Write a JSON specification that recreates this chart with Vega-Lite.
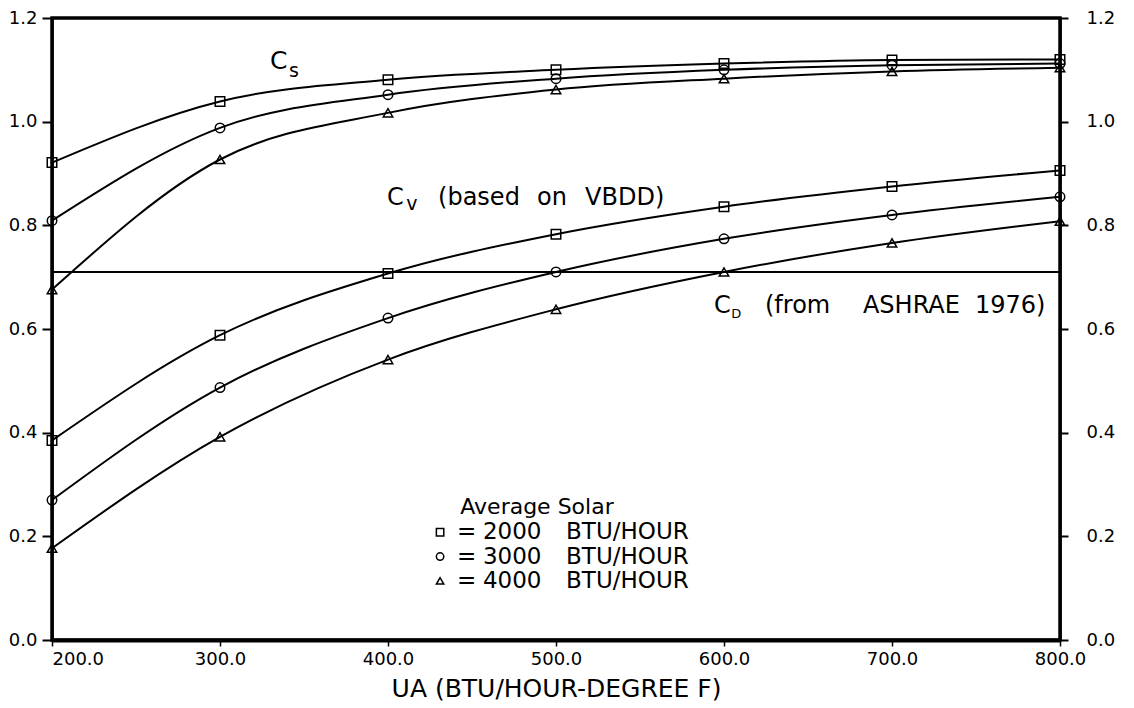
{
  "$schema": "https://vega.github.io/schema/vega-lite/v6.json",
  "width": 1008,
  "height": 622,
  "autosize": {"type": "none"},
  "padding": {"left": 52, "top": 18, "right": 74, "bottom": 68},
  "background": "white",
  "config": {
    "view": {"stroke": "black", "strokeWidth": 3.5},
    "font": "DejaVu Sans"
  },
  "datasets": {
    "curves": [
      {"ua": 200, "c": 0.921, "curve": "Cs", "solar": "2000"},
      {"ua": 300, "c": 1.039, "curve": "Cs", "solar": "2000"},
      {"ua": 400, "c": 1.081, "curve": "Cs", "solar": "2000"},
      {"ua": 500, "c": 1.100, "curve": "Cs", "solar": "2000"},
      {"ua": 600, "c": 1.112, "curve": "Cs", "solar": "2000"},
      {"ua": 700, "c": 1.119, "curve": "Cs", "solar": "2000"},
      {"ua": 800, "c": 1.120, "curve": "Cs", "solar": "2000"},
      {"ua": 200, "c": 0.809, "curve": "Cs", "solar": "3000"},
      {"ua": 300, "c": 0.988, "curve": "Cs", "solar": "3000"},
      {"ua": 400, "c": 1.052, "curve": "Cs", "solar": "3000"},
      {"ua": 500, "c": 1.083, "curve": "Cs", "solar": "3000"},
      {"ua": 600, "c": 1.100, "curve": "Cs", "solar": "3000"},
      {"ua": 700, "c": 1.109, "curve": "Cs", "solar": "3000"},
      {"ua": 800, "c": 1.112, "curve": "Cs", "solar": "3000"},
      {"ua": 200, "c": 0.676, "curve": "Cs", "solar": "4000"},
      {"ua": 300, "c": 0.927, "curve": "Cs", "solar": "4000"},
      {"ua": 400, "c": 1.017, "curve": "Cs", "solar": "4000"},
      {"ua": 500, "c": 1.062, "curve": "Cs", "solar": "4000"},
      {"ua": 600, "c": 1.083, "curve": "Cs", "solar": "4000"},
      {"ua": 700, "c": 1.097, "curve": "Cs", "solar": "4000"},
      {"ua": 800, "c": 1.104, "curve": "Cs", "solar": "4000"},
      {"ua": 200, "c": 0.385, "curve": "Cv", "solar": "2000"},
      {"ua": 300, "c": 0.588, "curve": "Cv", "solar": "2000"},
      {"ua": 400, "c": 0.707, "curve": "Cv", "solar": "2000"},
      {"ua": 500, "c": 0.783, "curve": "Cv", "solar": "2000"},
      {"ua": 600, "c": 0.836, "curve": "Cv", "solar": "2000"},
      {"ua": 700, "c": 0.875, "curve": "Cv", "solar": "2000"},
      {"ua": 800, "c": 0.906, "curve": "Cv", "solar": "2000"},
      {"ua": 200, "c": 0.270, "curve": "Cv", "solar": "3000"},
      {"ua": 300, "c": 0.487, "curve": "Cv", "solar": "3000"},
      {"ua": 400, "c": 0.621, "curve": "Cv", "solar": "3000"},
      {"ua": 500, "c": 0.710, "curve": "Cv", "solar": "3000"},
      {"ua": 600, "c": 0.774, "curve": "Cv", "solar": "3000"},
      {"ua": 700, "c": 0.820, "curve": "Cv", "solar": "3000"},
      {"ua": 800, "c": 0.855, "curve": "Cv", "solar": "3000"},
      {"ua": 200, "c": 0.177, "curve": "Cv", "solar": "4000"},
      {"ua": 300, "c": 0.392, "curve": "Cv", "solar": "4000"},
      {"ua": 400, "c": 0.541, "curve": "Cv", "solar": "4000"},
      {"ua": 500, "c": 0.638, "curve": "Cv", "solar": "4000"},
      {"ua": 600, "c": 0.710, "curve": "Cv", "solar": "4000"},
      {"ua": 700, "c": 0.766, "curve": "Cv", "solar": "4000"},
      {"ua": 800, "c": 0.808, "curve": "Cv", "solar": "4000"}
    ],
    "cd": [{"c": 0.71}],
    "labels": [
      {"ua": 329.8, "c": 1.118, "label": "C", "kind": "big"},
      {"ua": 341.0, "c": 1.097, "label": "s", "kind": "sub"},
      {"ua": 399.4, "c": 0.853, "label": "C", "kind": "main"},
      {"ua": 410.8, "c": 0.842, "label": "v", "kind": "sub"},
      {"ua": 429.8, "c": 0.853, "label": "(based", "kind": "main"},
      {"ua": 488.7, "c": 0.853, "label": "on", "kind": "main"},
      {"ua": 517.3, "c": 0.853, "label": "VBDD)", "kind": "main"},
      {"ua": 594.0, "c": 0.645, "label": "C", "kind": "main"},
      {"ua": 604.3, "c": 0.628, "label": "D", "kind": "subsmall"},
      {"ua": 624.4, "c": 0.644, "label": "(from", "kind": "main"},
      {"ua": 682.7, "c": 0.644, "label": "ASHRAE", "kind": "main"},
      {"ua": 749.4, "c": 0.644, "label": "1976)", "kind": "main"}
    ],
    "legend": [
      {"ua": 431.0, "c": 0.208, "solar": "2000"},
      {"ua": 431.0, "c": 0.161, "solar": "3000"},
      {"ua": 431.0, "c": 0.114, "solar": "4000"}
    ],
    "legendText": [
      {"ua": 441.1, "c": 0.208, "label": "="},
      {"ua": 456.5, "c": 0.208, "label": "2000"},
      {"ua": 506.0, "c": 0.208, "label": "BTU/HOUR"},
      {"ua": 441.1, "c": 0.161, "label": "="},
      {"ua": 456.5, "c": 0.161, "label": "3000"},
      {"ua": 506.0, "c": 0.161, "label": "BTU/HOUR"},
      {"ua": 441.1, "c": 0.114, "label": "="},
      {"ua": 456.5, "c": 0.114, "label": "4000"},
      {"ua": 506.0, "c": 0.114, "label": "BTU/HOUR"}
    ],
    "legendTitle": [{"ua": 488.7, "c": 0.256, "label": "Average Solar"}]
  },
  "resolve": {"axis": {"y": "independent"}},
  "layer": [
    {
      "data": {"name": "cd"},
      "mark": {"type": "rule", "color": "black", "strokeWidth": 2},
      "encoding": {
        "y": {
          "field": "c", "type": "quantitative",
          "scale": {"domain": [0, 1.2], "nice": false, "zero": false},
          "axis": {
            "orient": "right", "title": null,
            "values": [0, 0.2, 0.4, 0.6, 0.8, 1.0, 1.2], "format": ".1f",
            "labelFont": "DejaVu Sans", "labelFontSize": 18, "labelColor": "black",
            "tickColor": "black", "tickSize": 8, "tickWidth": 2,
            "labelPadding": 18, "domainColor": "black", "domainWidth": 2.5,
            "grid": false
          }
        }
      }
    },
    {
      "data": {"name": "curves"},
      "mark": {"type": "line", "interpolate": "monotone", "color": "black", "strokeWidth": 2},
      "encoding": {
        "x": {
          "field": "ua", "type": "quantitative",
          "scale": {"domain": [200, 800], "nice": false, "zero": false},
          "axis": {
            "title": "UA (BTU/HOUR-DEGREE F)",
            "values": [200, 300, 400, 500, 600, 700, 800], "format": ".1f",
            "labelFont": "DejaVu Sans", "labelFontSize": 18, "labelColor": "black",
            "labelAlign": {"condition": {"test": "datum.value === 200", "value": "left"}, "value": "center"},
            "tickColor": "black", "tickSize": 6, "tickWidth": 1.5, "labelPadding": 4,
            "domainColor": "black", "domainWidth": 4, "grid": false,
            "titleFont": "DejaVu Sans", "titleFontSize": 25, "titleFontWeight": "normal",
            "titleColor": "black", "titlePadding": 8
          }
        },
        "y": {
          "field": "c", "type": "quantitative",
          "scale": {"domain": [0, 1.2], "nice": false, "zero": false},
          "axis": {
            "orient": "left", "title": null,
            "values": [0, 0.2, 0.4, 0.6, 0.8, 1.0, 1.2], "format": ".1f",
            "labelFont": "DejaVu Sans", "labelFontSize": 18, "labelColor": "black",
            "tickColor": "black", "tickSize": 10, "tickWidth": 2,
            "labelPadding": 5, "domainColor": "black", "domainWidth": 2.5,
            "grid": false
          }
        },
        "detail": [{"field": "curve"}, {"field": "solar"}]
      }
    },
    {
      "data": {"name": "curves"},
      "mark": {"type": "point", "filled": false, "color": "black", "strokeWidth": 1.5, "size": 90, "opacity": 1},
      "encoding": {
        "x": {"field": "ua", "type": "quantitative"},
        "y": {"field": "c", "type": "quantitative", "axis": null},
        "shape": {
          "field": "solar", "type": "nominal",
          "scale": {"domain": ["2000", "3000", "4000"], "range": ["square", "circle", "triangle-up"]},
          "legend": null
        }
      }
    },
    {
      "data": {"name": "labels"},
      "transform": [{"filter": "datum.kind === 'main'"}],
      "mark": {"type": "text", "align": "left", "baseline": "middle", "font": "DejaVu Sans", "fontSize": 24, "color": "black"},
      "encoding": {
        "x": {"field": "ua", "type": "quantitative"},
        "y": {"field": "c", "type": "quantitative", "axis": null},
        "text": {"field": "label"}
      }
    },
    {
      "data": {"name": "labels"},
      "transform": [{"filter": "datum.kind === 'big'"}],
      "mark": {"type": "text", "align": "left", "baseline": "middle", "font": "DejaVu Sans", "fontSize": 25, "color": "black"},
      "encoding": {
        "x": {"field": "ua", "type": "quantitative"},
        "y": {"field": "c", "type": "quantitative", "axis": null},
        "text": {"field": "label"}
      }
    },
    {
      "data": {"name": "labels"},
      "transform": [{"filter": "datum.kind === 'sub'"}],
      "mark": {"type": "text", "align": "left", "baseline": "middle", "font": "DejaVu Sans", "fontSize": 19, "color": "black"},
      "encoding": {
        "x": {"field": "ua", "type": "quantitative"},
        "y": {"field": "c", "type": "quantitative", "axis": null},
        "text": {"field": "label"}
      }
    },
    {
      "data": {"name": "labels"},
      "transform": [{"filter": "datum.kind === 'subsmall'"}],
      "mark": {"type": "text", "align": "left", "baseline": "middle", "font": "DejaVu Sans", "fontSize": 13, "color": "black"},
      "encoding": {
        "x": {"field": "ua", "type": "quantitative"},
        "y": {"field": "c", "type": "quantitative", "axis": null},
        "text": {"field": "label"}
      }
    },
    {
      "data": {"name": "legendTitle"},
      "mark": {"type": "text", "align": "center", "baseline": "middle", "font": "DejaVu Sans", "fontSize": 22, "color": "black"},
      "encoding": {
        "x": {"field": "ua", "type": "quantitative"},
        "y": {"field": "c", "type": "quantitative", "axis": null},
        "text": {"field": "label"}
      }
    },
    {
      "data": {"name": "legend"},
      "mark": {"type": "point", "filled": false, "color": "black", "strokeWidth": 1.5, "size": 55, "opacity": 1},
      "encoding": {
        "x": {"field": "ua", "type": "quantitative"},
        "y": {"field": "c", "type": "quantitative", "axis": null},
        "shape": {
          "field": "solar", "type": "nominal",
          "scale": {"domain": ["2000", "3000", "4000"], "range": ["square", "circle", "triangle-up"]},
          "legend": null
        }
      }
    },
    {
      "data": {"name": "legendText"},
      "mark": {"type": "text", "align": "left", "baseline": "middle", "font": "DejaVu Sans", "fontSize": 23, "color": "black"},
      "encoding": {
        "x": {"field": "ua", "type": "quantitative"},
        "y": {"field": "c", "type": "quantitative", "axis": null},
        "text": {"field": "label"}
      }
    }
  ]
}
